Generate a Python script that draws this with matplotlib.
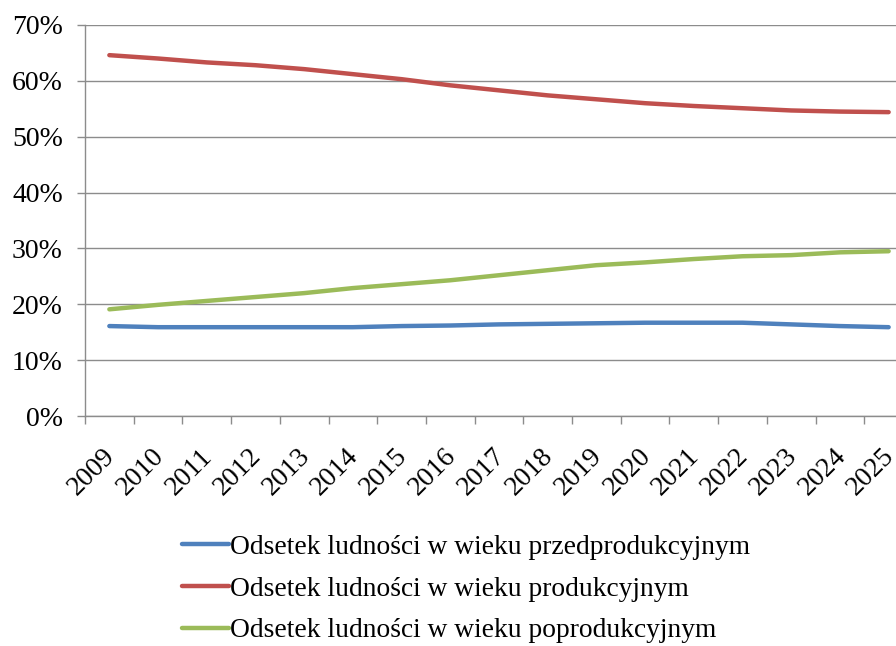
import matplotlib.pyplot as plt
import matplotlib.transforms as mtransforms
from matplotlib.ticker import FixedLocator

years = [str(y) for y in range(2009, 2026)]
przed = [16.1, 15.9, 15.9, 15.9, 15.9, 15.9, 16.1, 16.2, 16.4, 16.5, 16.6, 16.7, 16.7, 16.7, 16.4, 16.1, 15.9]
prod = [64.6, 64.0, 63.3, 62.8, 62.1, 61.2, 60.3, 59.2, 58.3, 57.4, 56.7, 56.0, 55.5, 55.1, 54.7, 54.5, 54.4]
poprod = [19.1, 19.9, 20.6, 21.3, 22.0, 22.9, 23.6, 24.3, 25.2, 26.1, 27.0, 27.5, 28.1, 28.6, 28.8, 29.3, 29.5]

labels = ['Odsetek ludności w wieku przedprodukcyjnym',
          'Odsetek ludności w wieku produkcyjnym',
          'Odsetek ludności w wieku poprodukcyjnym']
colors = ['#4F81BD', '#C0504D', '#9BBB59']

plt.rcParams['font.family'] = ['Liberation Serif', 'DejaVu Serif']

W, H = 896, 646
fig = plt.figure(figsize=(W / 100, H / 100), dpi=100)
# plot area runs past the right edge of the image, like the original
left, right, top, bottom = 85, 913, 25, 416
ax = fig.add_axes([left / W, 1 - bottom / H, (right - left) / W, (bottom - top) / H])

x = list(range(len(years)))
for vals, lab, c in zip([przed, prod, poprod], labels, colors):
    ax.plot(x, vals, color=c, lw=3.2, label=lab, solid_capstyle='round')

ax.set_xlim(-0.5, len(years) - 0.5)
ax.set_ylim(0, 70)
ax.set_yticks(range(0, 71, 10))
ax.set_yticklabels([f'{v}%' for v in range(0, 71, 10)], fontsize=20)
ax.grid(axis='y', color='#8c8c8c', lw=1)
ax.set_axisbelow(True)

ax.set_xticks(x)
ax.set_xticklabels(years, fontsize=20, rotation=45, ha='right', va='top', rotation_mode='anchor')
ax.xaxis.set_minor_locator(FixedLocator([i - 0.5 for i in range(len(years) + 1)]))
ax.tick_params(axis='x', which='major', length=0, pad=20)
ax.tick_params(axis='x', which='minor', length=6, color='#8c8c8c', width=1)
ax.tick_params(axis='y', length=6, color='#8c8c8c', width=1, pad=10)

# nudge the rotated year labels a little to the left (after tick_params, which resets transforms)
shift = mtransforms.ScaledTranslation(-7 / 100, 0, fig.dpi_scale_trans)
for t in ax.get_xticklabels():
    t.set_transform(t.get_transform() + shift)

for s in ['top', 'right']:
    ax.spines[s].set_visible(False)
for s in ['left', 'bottom']:
    ax.spines[s].set_color('#8c8c8c')
    ax.spines[s].set_linewidth(1)

handles, labs = ax.get_legend_handles_labels()
fig.legend(handles, labs, loc='center left', bbox_to_anchor=(182 / W, 1 - 589 / H),
           frameon=False, fontsize=19.8, handlelength=1.7, handletextpad=0.05,
           labelspacing=0.6, borderpad=0, borderaxespad=0)

fig.savefig('out.png', dpi=100)
